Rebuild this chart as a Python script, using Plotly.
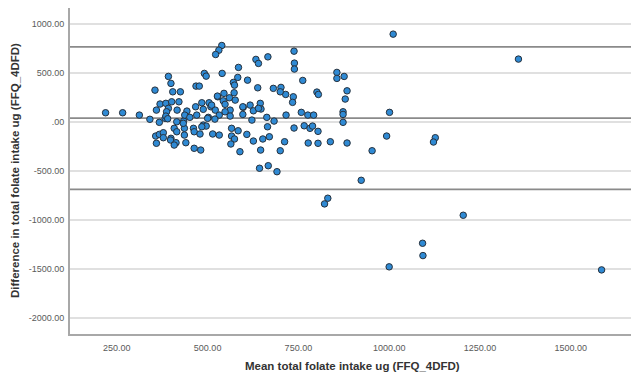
import plotly.graph_objects as go

# Mean of the two methods (x) and difference (y)
mean_intake = [
    219, 266, 312, 341, 355, 392, 399, 404, 425, 369, 421, 385, 392, 359, 387, 416, 443, 467, 468, 415,
    383, 385, 390, 367, 434, 437, 470, 461, 408, 415, 436, 436, 463, 357, 367, 378, 378, 359, 399, 398,
    413, 408, 440, 463, 401,
    539, 531, 522, 633, 640, 666, 585, 540, 491, 496, 583, 610, 571, 574, 477, 638, 681, 545, 528, 573,
    560, 576, 543, 484, 504, 548, 617, 645, 598, 488, 509, 562, 647, 626, 532, 663, 502, 451,
    527, 521, 548, 511, 640, 597,
    488, 496, 484, 433, 479, 514, 532, 566, 584, 566, 574, 564, 608, 626, 652, 670, 665, 683, 622, 589,
    646, 481, 643, 667, 691, 562, 597, 500, 520,
    738, 739, 739, 762, 856, 856, 876, 884, 879, 801, 805, 736, 734, 715, 702, 700, 716, 758, 776, 792,
    873, 873, 873, 738, 766, 782, 789, 804, 712, 700, 777, 804, 838, 884,
    1011, 1356, 1001, 1127, 1122, 1204, 1092, 1093, 1585, 1000, 923, 831, 822, 953, 993,
]
diff_intake = [
    95, 95, 71, 28, 326, 466, 395, 309, 309, 184, 207, 191, 140, 122, 105, 122, 112, 156, 367, 3,
    38, 61, 34, -3, 10, 71, 71, -64, -64, -99, -64, -133, -99, -143, -126, -109, -160, -217, -166, -184,
    -211, -235, -211, -268, 207,
    782, 734, 690, 640, 599, 666, 558, 497, 497, 469, 456, 428, 405, 377, 367, 350, 344, 293, 258, 299,
    248, 224, 217, 197, 197, 181, 173, 191, 150, 130, 156, 122, 133, 115, 71, 48, 48, 48,
    265, 122, 105, 173, 140, 156,
    -31, -41, -48, -13, -122, -122, -133, -64, -89, -143, -173, -224, -126, -194, -173, -150, -48, 10, 20, -303,
    -286, -286, -472, -446, -507, 61, 78, 38, 30,
    724, 602, 541, 425, 507, 446, 466, 319, 235, 306, 282, 258, 201, 282, 354, 309, 71, 99, 71, 71,
    105, 78, -3, -61, -38, -64, -41, -95, -201, -293, -214, -217, -201, -214,
    898, 643, 99, -160, -204, -952, -1238, -1364, -1510, -1479, -595, -778, -836, -293, -143,
]

mean_diff = 40
upper_loa = 768
lower_loa = -688

x_ticks = [250, 500, 750, 1000, 1250, 1500]
x_tick_text = ["250.00", "500.00", "750.00", "1000.00", "1250.00", "1500.00"]
y_ticks = [1000, 500, 0, -500, -1000, -1500, -2000]
y_tick_text = ["1000.00", "500.00", ".00", "-500.00", "-1000.00", "-1500.00", "-2000.00"]

x_title = "Mean total folate intake ug (FFQ_4DFD)"
y_title = "Difference in total folate intake ug (FFQ_4DFD)"

fig = go.Figure()
fig.add_trace(go.Scatter(
    x=mean_intake, y=diff_intake, mode="markers",
    marker=dict(size=6.5, color="#2f8ad4", line=dict(width=1, color="#27313c")),
    showlegend=False, hoverinfo="x+y",
))

for v in [upper_loa, mean_diff, lower_loa]:
    fig.add_shape(type="line", xref="paper", x0=0, x1=1, yref="y", y0=v, y1=v,
                  line=dict(color="#8a8a8a", width=1.6), layer="below")

fig.update_layout(
    width=631, height=378,
    margin=dict(l=70, r=0, t=8, b=44),
    paper_bgcolor="white", plot_bgcolor="white",
    font=dict(family="Liberation Sans, Arial, sans-serif", size=9, color="#5a5a5a"),
    xaxis=dict(range=[121, 1666], tickvals=x_ticks, ticktext=x_tick_text,
               showgrid=False, zeroline=False, showline=True, linecolor="#a8a8a8", linewidth=2,
               ticks="", ticklabelstandoff=4, fixedrange=True),
    yaxis=dict(range=[-2165, 1165], tickvals=y_ticks, ticktext=y_tick_text,
               showgrid=True, gridcolor="#e0e0e0", gridwidth=1.5, zeroline=False,
               showline=True, linecolor="#a8a8a8", linewidth=2, ticks="", ticklabelstandoff=2,
               fixedrange=True),
    annotations=[
        dict(text="<b>" + x_title + "</b>", xref="paper", yref="paper", x=0.503, y=-0.098,
             xanchor="center", yanchor="middle", showarrow=False,
             font=dict(size=11.5, color="#333333", family="Liberation Sans, Arial, sans-serif")),
        dict(text="<b>" + y_title + "</b>", xref="paper", yref="paper", x=-0.098, y=0.5,
             xanchor="center", yanchor="middle", showarrow=False, textangle=-90,
             font=dict(size=11.5, color="#333333", family="Liberation Sans, Arial, sans-serif")),
    ],
)

fig.write_html("out.html")
